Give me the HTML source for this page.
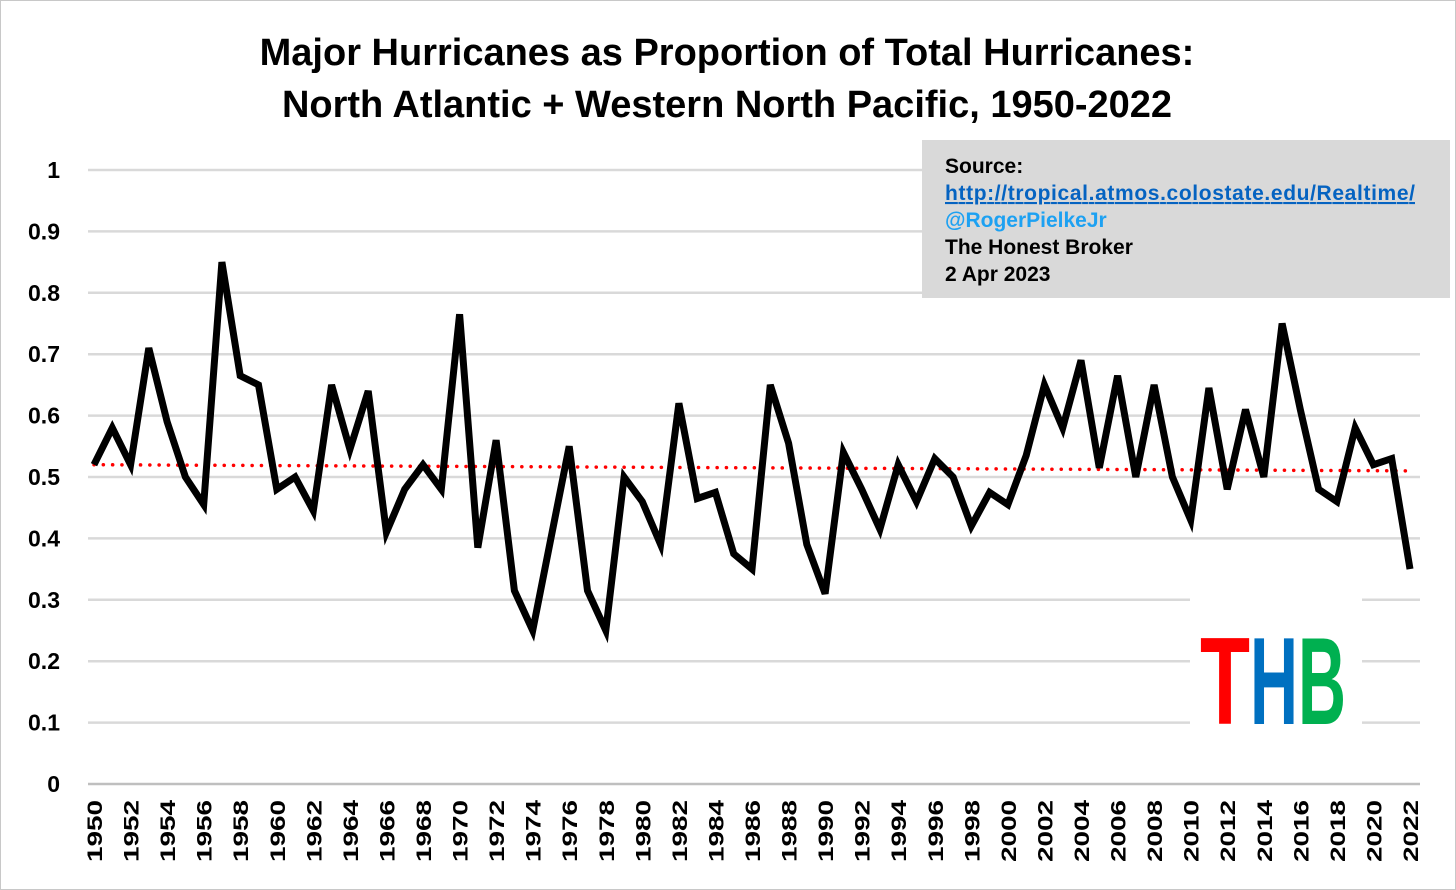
<!DOCTYPE html>
<html><head><meta charset="utf-8"><style>
body{margin:0;background:#fff;}
svg{display:block;font-family:"Liberation Sans",sans-serif;}
</style></head><body>
<svg width="1456" height="890" viewBox="0 0 1456 890">
<rect x="0.5" y="0.5" width="1455" height="889" fill="#fff" stroke="#c8c8c8"/>
<text x="727" y="65" text-anchor="middle" font-size="38" font-weight="bold">Major Hurricanes as Proportion of Total Hurricanes:</text>
<text x="727" y="117" text-anchor="middle" font-size="38" font-weight="bold">North Atlantic + Western North Pacific, 1950-2022</text>
<g id="grid"></g>
<g id="yticks"></g>
<g id="xticks"></g>
<rect x="1190" y="598" width="172" height="180" fill="#fff"/>
<path id="trend" fill="none" stroke="#ff0000" stroke-width="3.5" stroke-dasharray="0.1 9.2" stroke-linecap="round"/>
<path id="series" fill="none" stroke="#000" stroke-width="7" stroke-linejoin="miter"/>
<rect x="922" y="140" width="528" height="158" fill="#d9d9d9"/>
<g font-size="21" font-weight="bold">
<text x="945" y="173">Source:</text>
<text x="945" y="200" fill="#0563c1" text-decoration="underline" textLength="470">http://tropical.atmos.colostate.edu/Realtime/</text>
<text x="945" y="227" fill="#1da1f2">@RogerPielkeJr</text>
<text x="945" y="254">The Honest Broker</text>
<text x="945" y="281">2 Apr 2023</text>
</g>
<g font-size="124" font-weight="bold">
<text x="1200" y="724" fill="#ff0000" textLength="50" lengthAdjust="spacingAndGlyphs">T</text>
<text x="1250" y="724" fill="#0070c0" textLength="48" lengthAdjust="spacingAndGlyphs">H</text>
<text x="1298" y="724" fill="#00b050" textLength="48" lengthAdjust="spacingAndGlyphs">B</text>
</g>
</svg>
<script>
const years=[];for(let y=1950;y<=2022;y++)years.push(y);
const values=[0.52,0.58,0.52,0.71,0.59,0.50,0.455,0.85,0.665,0.65,0.48,0.50,0.445,0.65,0.545,0.64,0.41,0.48,0.52,0.48,0.765,0.385,0.56,0.315,0.25,0.40,0.55,0.315,0.25,0.50,0.46,0.39,0.62,0.465,0.475,0.375,0.35,0.65,0.555,0.39,0.31,0.54,0.48,0.415,0.52,0.46,0.53,0.50,0.42,0.475,0.455,0.535,0.65,0.58,0.69,0.515,0.665,0.50,0.65,0.50,0.43,0.645,0.48,0.61,0.50,0.75,0.61,0.48,0.46,0.58,0.52,0.53,0.35];
const trendEnds=[0.52,0.51];
const yTicks=[0,0.1,0.2,0.3,0.4,0.5,0.6,0.7,0.8,0.9,1];
const yTickLabels=["0","0.1","0.2","0.3","0.4","0.5","0.6","0.7","0.8","0.9","1"];
const NS="http://www.w3.org/2000/svg";
const xs=i=>94+i*(1316/72);
const ys=v=>784-v*614;
const grid=document.getElementById('grid'),yt=document.getElementById('yticks'),xt=document.getElementById('xticks');
yTicks.forEach((t,i)=>{
 const l=document.createElementNS(NS,'line');
 l.setAttribute('x1',88);l.setAttribute('x2',1420);l.setAttribute('y1',ys(t));l.setAttribute('y2',ys(t));
 l.setAttribute('stroke',t===0?'#bfbfbf':'#d9d9d9');l.setAttribute('stroke-width',2.5);
 
 
 grid.appendChild(l);
 const tx=document.createElementNS(NS,'text');
 tx.setAttribute('x',60);tx.setAttribute('y',ys(t)+8);tx.setAttribute('text-anchor','end');
 tx.setAttribute('font-size',23);tx.setAttribute('font-weight','bold');tx.textContent=yTickLabels[i];
 
 
 yt.appendChild(tx);
});
years.forEach((y,i)=>{
 if(y%2)return;
 const tx=document.createElementNS(NS,'text');
 const x=xs(i)+8,yy=800;
 tx.setAttribute('transform',`translate(${x},${yy}) rotate(-90)`);
 tx.setAttribute('text-anchor','end');tx.setAttribute('font-size',21);tx.setAttribute('font-weight','bold');
 tx.setAttribute('textLength',62);tx.setAttribute('lengthAdjust','spacingAndGlyphs');
 tx.textContent=y;
 
 
 xt.appendChild(tx);
});
document.getElementById('series').setAttribute('d',values.map((v,i)=>(i?'L':'M')+xs(i).toFixed(1)+','+ys(v).toFixed(1)).join(''));
document.getElementById('trend').setAttribute('d',`M${xs(0)},${ys(trendEnds[0])}L${xs(values.length-1)},${ys(trendEnds[1])}`);
</script>
</body></html>
